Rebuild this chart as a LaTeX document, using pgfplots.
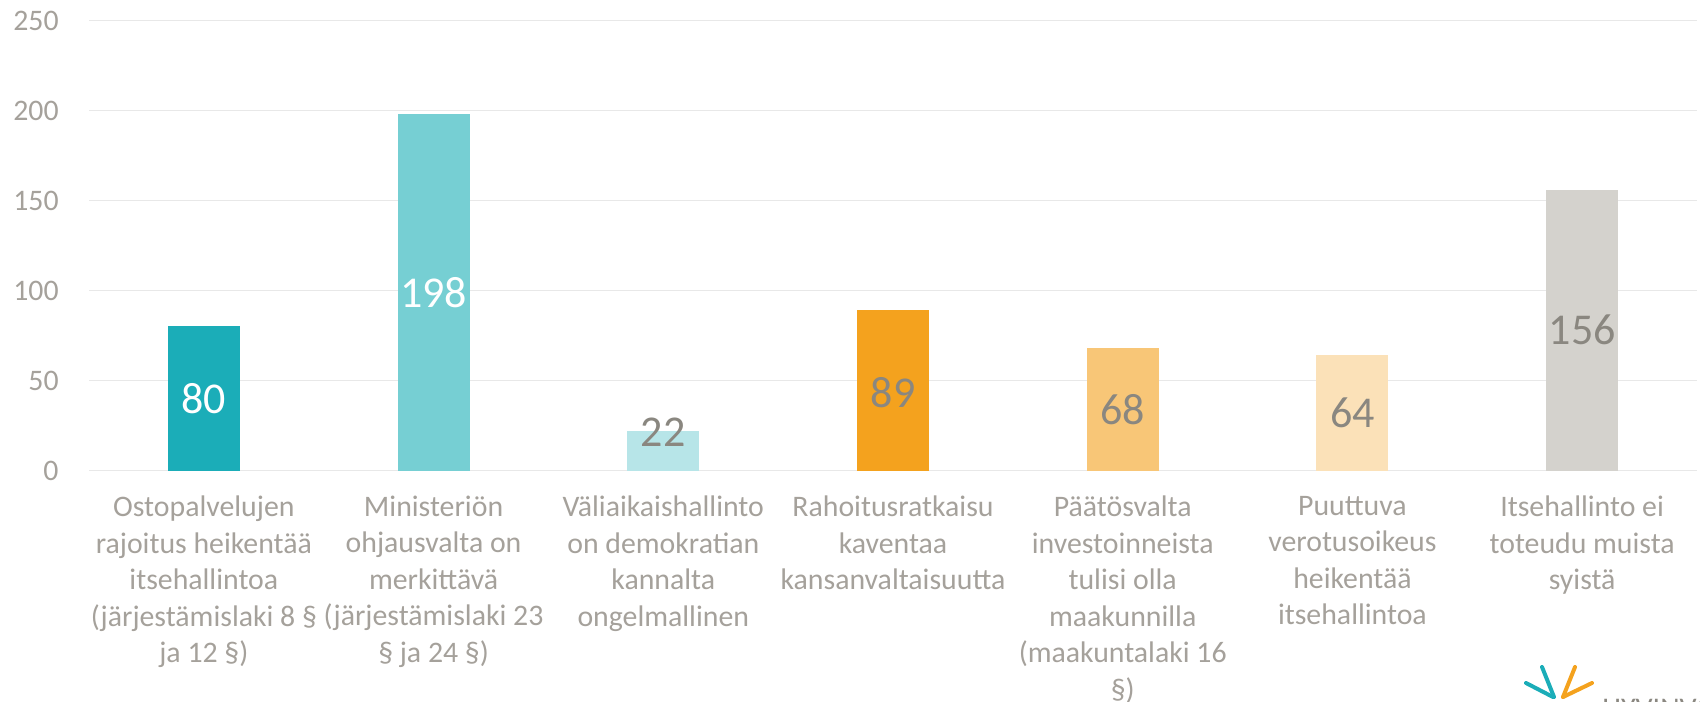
\documentclass[border=0pt]{standalone}
\usepackage{pgfplots}
\pgfplotsset{compat=1.18}
\usepackage{fontspec}
\setmainfont{Carlito}

\definecolor{cA}{HTML}{1BADB8}
\definecolor{cB}{HTML}{76CFD3}
\definecolor{cC}{HTML}{B7E5E8}
\definecolor{cD}{HTML}{F4A21E}
\definecolor{cE}{HTML}{F8C677}
\definecolor{cF}{HTML}{FBE1B8}
\definecolor{cG}{HTML}{D4D2CD}
\definecolor{gridc}{HTML}{E8E8E8}
\definecolor{tickc}{HTML}{A5A19B}
\definecolor{lblc}{HTML}{8A8780}

\begin{document}
\begin{tikzpicture}
\useasboundingbox (0pt,0pt) rectangle (850pt,350.5pt);
\begin{axis}[
  at={(44.5pt,115.25pt)}, anchor=south west,
  scale only axis, width=804pt, height=225pt,
  xmin=-0.5, xmax=6.5, ymin=0, ymax=250,
  ytick={0,50,...,250},
  xtick={0,...,6},
  xticklabels={
    {Ostopalvelujen\\rajoitus heikentää\\itsehallintoa\\(järjestämislaki 8 §\\ja 12 §)},
    {Ministeriön\\ohjausvalta on\\merkittävä\\(järjestämislaki 23\\§ ja 24 §)},
    {Väliaikaishallinto\\on demokratian\\kannalta\\ongelmallinen},
    {Rahoitusratkaisu\\kaventaa\\kansanvaltaisuutta},
    {Päätösvalta\\investoinneista\\tulisi olla\\maakunnilla\\(maakuntalaki 16\\§)},
    {Puuttuva\\verotusoikeus\\heikentää\\itsehallintoa},
    {Itsehallinto ei\\toteudu muista\\syistä}},
  axis line style={draw=none},
  major tick length=0pt,
  ymajorgrids, grid style={gridc, line width=0.8pt},
  tick label style={font=\fontsize{14.9}{18.25}\selectfont, text=tickc},
  yticklabel style={anchor=east, inner sep=0pt, xshift=-15pt},
  xticklabel style={anchor=north, inner sep=0pt, align=center, yshift=-12.5pt},
  /pgf/number format/assume math mode=true,
  clip=false,
]
\addplot[ybar, bar width=36pt, bar shift=0pt, fill=cA, draw=none] coordinates {(0,80)};
\addplot[ybar, bar width=36pt, bar shift=0pt, fill=cB, draw=none] coordinates {(1,198)};
\addplot[ybar, bar width=36pt, bar shift=0pt, fill=cC, draw=none] coordinates {(2,22)};
\addplot[ybar, bar width=36pt, bar shift=0pt, fill=cD, draw=none] coordinates {(3,89)};
\addplot[ybar, bar width=36pt, bar shift=0pt, fill=cE, draw=none] coordinates {(4,68)};
\addplot[ybar, bar width=36pt, bar shift=0pt, fill=cF, draw=none] coordinates {(5,64)};
\addplot[ybar, bar width=36pt, bar shift=0pt, fill=cG, draw=none] coordinates {(6,156)};
% value labels, centred in the bars
\addplot[draw=none, mark=none, nodes near coords, point meta=explicit symbolic,
  every node near coord/.append style={anchor=center, inner sep=0pt, text=white,
    font=\fontsize{22}{26}\selectfont}]
  coordinates {(0,40) [80] (1,99) [198]};
\addplot[draw=none, mark=none, nodes near coords, point meta=explicit symbolic,
  every node near coord/.append style={anchor=center, inner sep=0pt, text=lblc,
    font=\fontsize{22}{26}\selectfont}]
  coordinates {(2,21) [22] (3,43.5) [89] (4,34) [68] (5,32) [64] (6,78) [156]};
\end{axis}
% logo, bottom right
\draw[cA, line width=2pt, line cap=round] (771pt,17pt) -- (777pt,2pt);
\draw[cA, line width=2pt, line cap=round] (763pt,9pt) -- (776.5pt,2pt);
\draw[cD, line width=2pt, line cap=round] (787.5pt,17pt) -- (781.5pt,2pt);
\draw[cD, line width=2pt, line cap=round] (796pt,9pt) -- (781.5pt,2pt);
\node[anchor=north west, inner sep=0pt, text=lblc, font=\fontsize{15}{18}\selectfont]
  at (801pt,1pt) {HYVINVOINTIALUE};
\end{tikzpicture}
\end{document}
